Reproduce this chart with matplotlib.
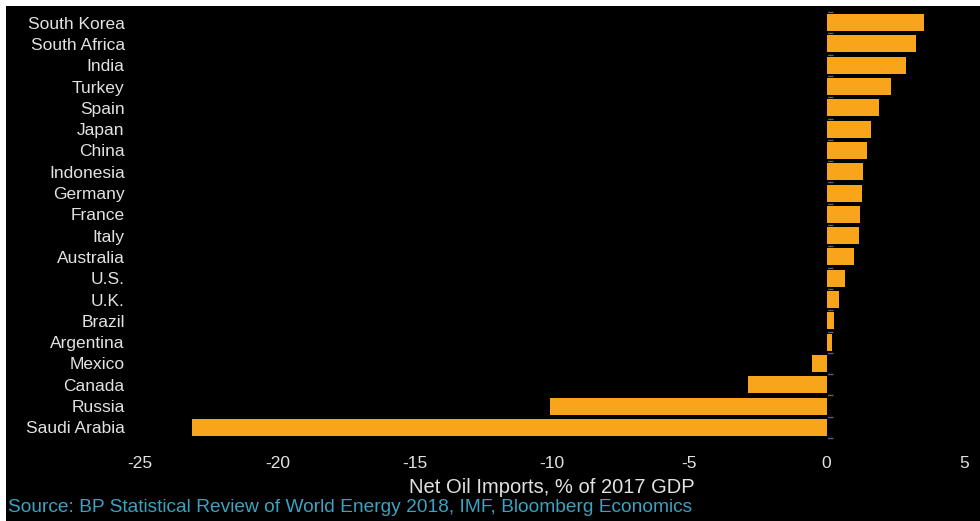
import numpy as np
import matplotlib
matplotlib.use("Agg")
from matplotlib import pyplot as plt
from matplotlib.patches import Rectangle

# net oil imports as % of 2017 GDP, top to bottom
countries = ['South Korea', 'South Africa', 'India', 'Turkey', 'Spain', 'Japan',
             'China', 'Indonesia', 'Germany', 'France', 'Italy', 'Australia',
             'U.S.', 'U.K.', 'Brazil', 'Argentina', 'Mexico', 'Canada',
             'Russia', 'Saudi Arabia']
net_imports = [3.55, 3.26, 2.90, 2.33, 1.92, 1.60, 1.46, 1.34, 1.30, 1.23,
               1.16, 1.01, 0.65, 0.44, 0.25, 0.21, -0.52, -2.85, -10.08, -23.1]
xticks = [-25, -20, -15, -10, -5, 0, 5]

plt.rcParams['font.family'] = ['Liberation Sans', 'DejaVu Sans']
plt.rcParams['axes.unicode_minus'] = False

fig = plt.figure(figsize=(9.8, 5.21), dpi=100, facecolor='white')
# dark panel, leaving a thin white margin at top and left
fig.patches.append(Rectangle((6 / 980, 0), 1, 1 - 6 / 521, transform=fig.transFigure,
                             facecolor='black', edgecolor='none', zorder=-1))

ax = fig.add_axes([140 / 980, 1 - 438 / 521, 824 / 980, 426 / 521])
ax.set_facecolor('black')

y = np.arange(len(countries))
ax.barh(y, net_imports, height=0.8, color='#f9a51b', zorder=3)

ax.set_xlim(-25, 5)
ax.set_ylim(len(countries) - 0.5, -0.5)
ax.set_xticks(xticks)
ax.set_yticks(y)
ax.set_yticklabels(countries)
ax.tick_params(axis='y', length=0, pad=11, labelsize=12.5, labelcolor='#e2e2e2')
ax.tick_params(axis='x', length=0, pad=13, labelsize=12.5, labelcolor='#e2e2e2')
for s in ax.spines.values():
    s.set_visible(False)

# category axis sits on the zero line, ticks between categories
zero_pos = (0 - (-25)) / 30
sec = ax.secondary_yaxis(zero_pos)
sec.set_yticks(np.arange(len(countries) + 1) - 0.5)
sec.set_yticklabels([])
sec.tick_params(axis='y', direction='out', length=4, width=1, color='#5a6470')
sec.spines['left'].set_color('#8c8c8c')
sec.spines['left'].set_linewidth(1.2)

ax.set_xlabel('Net Oil Imports, % of 2017 GDP', color='#e2e2e2', fontsize=14.5, labelpad=5)

fig.text(8 / 980, 1 - 508 / 521, 'Source: BP Statistical Review of World Energy 2018, IMF, Bloomberg Economics',
         color='#3aa3c2', fontsize=13.8, va='center', ha='left')

fig.savefig('out.png', dpi=100, facecolor=fig.get_facecolor())
